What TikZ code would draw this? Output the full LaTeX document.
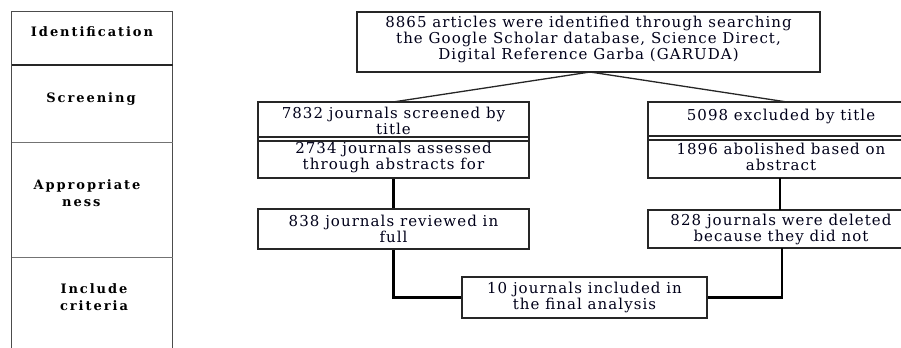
\documentclass[tikz,border=0pt]{standalone}
\usepackage{fontspec}
\newfontfamily\boxfont[LetterSpace=7]{DejaVu Serif}
\newfontfamily\labfont[LetterSpace=15]{DejaVu Serif}
\begin{document}
\begin{tikzpicture}[x=1bp,y=-1bp,
  box/.style={draw=black!85,line width=1.3bp,inner sep=0pt,align=center,
    font=\boxfont\fontsize{15bp}{16bp}\selectfont,text=black!90!blue},
  btext/.style={box,draw=none},
  lab/.style={inner sep=0pt,align=center,font=\labfont\bfseries\fontsize{13bp}{17bp}\selectfont},
  thin/.style={line width=1.3bp,draw=black!85},
  thick/.style={line width=2.6bp,draw=black}]
\useasboundingbox[clip] (0,0) rectangle (901,347);
% stage table
\draw[line width=1bp,draw=black!70] (11.7,350) -- (11.7,11) -- (172.7,11) -- (172.7,350);
\draw[line width=1.2bp,draw=black!85] (11.7,65) -- (172.7,65);
\draw[line width=1bp,draw=black!55] (11.7,142) -- (172.7,142);
\draw[line width=1bp,draw=black!55] (11.7,257) -- (172.7,257);
\node[lab] (l1) at (92,32) {Identification};
\node[lab] (l2) at (91,99) {Screening};
\node[lab,align=left] (l3) at (87,193.5) {Appropriate\\\hspace*{2.2em}ness};
\node[lab] (l4) at (94,297.5) {Include\\criteria};
% boxes
\node[box,minimum width=463bp,minimum height=60bp] (top) at (588.5,42) {};
\node[btext] (topt) at (588.5,39)
  {8865 articles were identified through searching\\the Google Scholar database, Science Direct,\\Digital Reference Garba (GARUDA)};
\node[box,minimum width=271bp,minimum height=39bp] (a1) at (393.5,121.5) {};
\node[btext] (a1t) at (393.5,121) {7832 journals screened by\\title};
\node[box,minimum width=271bp,minimum height=41bp] (a2) at (393.5,157.5) {};
\node[btext] (a2t) at (393.5,157) {2734 journals assessed\\through abstracts for};
\node[box,minimum width=282bp,minimum height=38bp] (b1) at (789,121) {};
\node[box,minimum width=282bp,minimum height=42bp] (b2) at (789,157) {};
\node[btext] (b1t) at (781,116) {5098 excluded by title};
\node[btext] (b2t) at (781,157) {1896 abolished based on\\abstract};
\node[box,minimum width=271bp,minimum height=40bp] (a3) at (393.5,229) {};
\node[btext] (a3t) at (393.5,229) {838 journals reviewed in\\full};
\node[box,minimum width=282bp,minimum height=38bp] (b3) at (789,229) {};
\node[btext] (b3t) at (781,229) {828 journals were deleted\\because they did not};
\node[box,minimum width=245bp,minimum height=41bp] (fin) at (584.5,297.5) {};
\node[btext] (fint) at (584.5,297) {10 journals included in\\the final analysis};
% connectors
\coordinate (tc) at (590,72);
\draw[thin] (tc) -- (393,102);
\draw[thin] (tc) -- (787,102);
\draw[thick] (a2.south) -- (a3.north);
\draw[thick] (780,178) -- (780,210);
\draw[thick] (a3.south) |- (fin.west);
\draw[thick] (782,248) |- (fin.east);
\end{tikzpicture}
\end{document}
